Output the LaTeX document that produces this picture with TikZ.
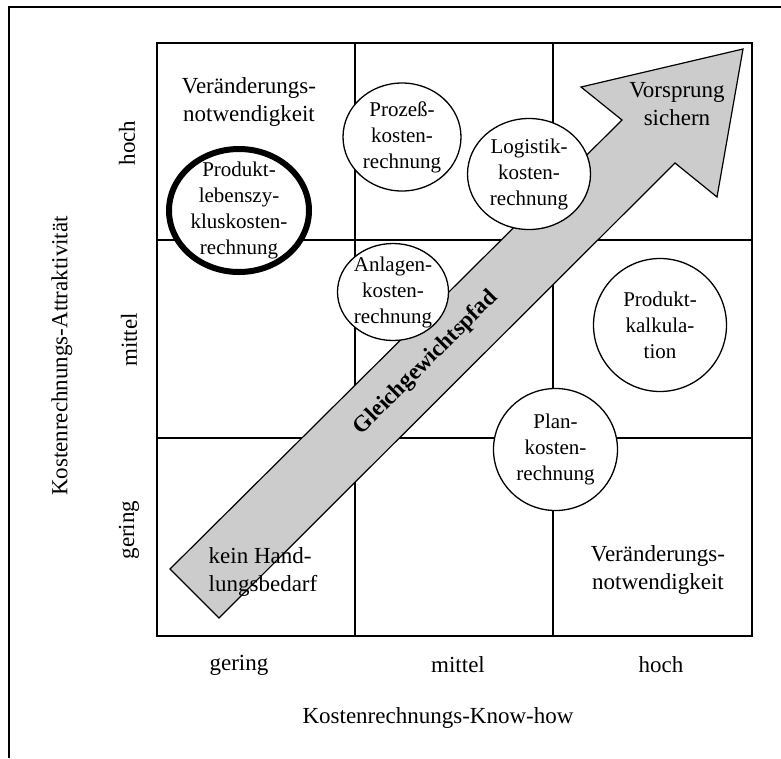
\documentclass[tikz,border=0pt]{standalone}
\usepackage{fontspec}
\setmainfont{Liberation Serif}
\usetikzlibrary{shapes.geometric}
\begin{document}
\begin{tikzpicture}[x=1pt,y=-1pt,
  txt/.style={font=\fontsize{23}{28}\selectfont, align=center, inner sep=0pt},
  ctxt/.style={font=\fontsize{21}{26}\selectfont, align=center, inner sep=0pt},
  bubble/.style={ellipse, draw, fill=white, line width=1.3pt, inner sep=0pt},
  gridline/.style={line width=1.3pt},
  pathfill/.style={fill=black!20, draw, line width=1.2pt, line join=miter}]
\useasboundingbox (0,0) rectangle (781,758);

% page frame (top and left edge)
\draw[line width=2pt] (9,758) -- (9,7) -- (781,7);

% 3x3 matrix
\draw[gridline] (355,43) -- (355,636) (553,43) -- (553,636)
                (157,240) -- (752,240) (157,438) -- (752,438);
\draw[line width=2.4pt] (157,43) rectangle (752,636);

% equilibrium path arrow
\coordinate (tl) at (170,569);
\coordinate (tb) at (219,618);
\coordinate (nl) at (675,163);
\coordinate (br) at (717,197);
\coordinate (tip) at (743,49);
\coordinate (bl) at (581,87);
\coordinate (nu) at (622,120);
\draw[pathfill] (tl) -- (tb) -- (nl) -- (br) -- (tip) -- (bl) -- (nu) -- cycle;
\node[font=\fontsize{23}{28}\selectfont\bfseries, rotate=45, inner sep=0pt] (gp) at (426,363) {Gleichgewichtspfad};

% methods
\node[bubble, line width=6pt, minimum width=140pt, minimum height=123pt] (plz) at (239,210.5) {};
\node[ctxt] at (plz) {Produkt-\\lebenszy-\\kluskosten-\\rechnung};
\node[bubble, minimum width=118pt, minimum height=108pt] (proz) at (402,137) {};
\node[ctxt] at (proz) {Prozeß-\\kosten-\\rechnung};
\node[bubble, minimum width=123pt, minimum height=111pt] (logi) at (529,174) {};
\node[ctxt] at (logi) {Logistik-\\kosten-\\rechnung};
\node[bubble, minimum width=111pt, minimum height=97pt] (anl) at (393,292) {};
\node[ctxt] at (anl) {Anlagen-\\kosten-\\rechnung};
\node[bubble, minimum width=133pt, minimum height=133pt] (kalk) at (660,325) {};
\node[ctxt] at (kalk) {Produkt-\\kalkula-\\tion};
\node[bubble, minimum width=124pt, minimum height=122pt] (plan) at (555.5,449.5) {};
\node[ctxt] at (plan) {Plan-\\kosten-\\rechnung};

% field labels
\node[txt] (vn1) at (249,102) {Veränderungs-\\notwendigkeit};
\node[txt] (vs) at (677,104) {Vorsprung\\sichern};
\node[txt, align=left] (kh) at (263,572) {kein Hand-\\lungsbedarf};
\node[txt] (vn2) at (658,570) {Veränderungs-\\notwendigkeit};

% axis scales
\node[txt] (xg) at (239,665) {gering};
\node[txt] (xm) at (458,665) {mittel};
\node[txt] (xh) at (661,665) {hoch};
\node[txt, rotate=90] (yh) at (127,143) {hoch};
\node[txt, rotate=90] (ym) at (129,340) {mittel};
\node[txt, rotate=90] (yg) at (129,530) {gering};

% axis titles
\node[txt] (xt) at (438,718) {Kostenrechnungs-Know-how};
\node[txt, rotate=90] (yt) at (62,356) {Kostenrechnungs-Attraktivität};
\end{tikzpicture}
\end{document}
